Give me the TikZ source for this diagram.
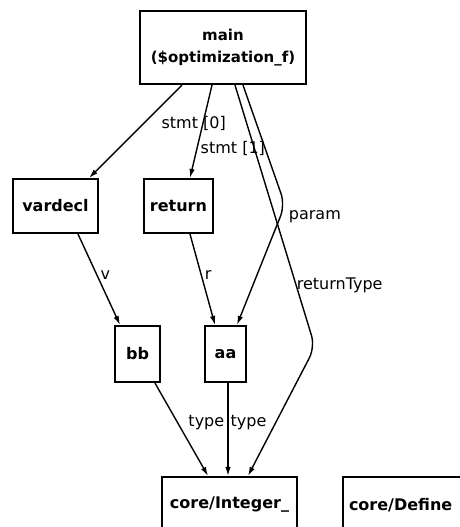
\documentclass[tikz,border=0pt]{standalone}
\usepackage{fontspec}
\setmainfont{DejaVu Sans}
\usetikzlibrary{arrows.meta}

\begin{document}
\begin{tikzpicture}[x=1pt,y=-1pt,
    box/.style={draw,line width=2.2pt,inner sep=0pt,font=\bfseries\fontsize{16}{22}\selectfont},
    edge/.style={line width=1.4pt,-{Latex[length=9pt,width=5.5pt]}},
    lbl/.style={font=\fontsize{16}{18}\selectfont,inner sep=0pt}]
  \useasboundingbox (0,0) rectangle (459,527);
  % boxes
  \node [box,minimum width=166pt,minimum height=73pt,align=center,font=\bfseries\fontsize{15}{22}\selectfont] (main) at (223,47.5) {main\\(\$optimization\_f)};
  \node [box,minimum width=85pt,minimum height=54pt] (vardecl) at (55.5,206) {vardecl};
  \node [box,minimum width=69pt,minimum height=54pt] (return) at (178.5,206) {return};
  \node [box,minimum width=45pt,minimum height=56pt] (bb) at (137.5,354) {bb};
  \node [box,minimum width=41pt,minimum height=56pt] (aa) at (225.5,354) {aa};
  \node [box,minimum width=135pt,minimum height=56pt] (integer) at (229.5,505) {core/Integer\_};
  \node [box,minimum height=56pt,text width=128pt,inner xsep=6pt,align=left] (define) at (413,505) {core/Define};
  \coordinate (parambend) at (285,205);
  \coordinate (typebend) at (315,347);
  % edges
  \draw [edge] ([xshift=-41pt]main.south) -- ([xshift=-10pt]vardecl.north east)
    node [lbl,pos=0.41,anchor=west,xshift=17pt] {stmt [0]};
  \draw [edge] ([xshift=-11pt]main.south) -- ([xshift=11.5pt]return.north)
    node [lbl,pos=0.68,anchor=west,xshift=3pt] {stmt [1]};
  \draw [edge,rounded corners=12pt] ([xshift=20pt]main.south) -- (parambend)
    -- ([xshift=11.5pt]aa.north) node [lbl,pos=0.1,anchor=west,xshift=8pt] {param};
  \draw [edge,rounded corners=12pt] ([xshift=12pt]main.south)
    -- (typebend) node [lbl,pos=0.764,anchor=west] {returnType}
    -- ([xshift=18.5pt]integer.north);
  \draw [edge] ([xshift=22.5pt]vardecl.south) -- ([xshift=-17.5pt]bb.north)
    node [lbl,pos=0.45,anchor=west,xshift=3pt] {v};
  \draw [edge] ([xshift=11.5pt]return.south) -- ([xshift=-10.5pt]aa.north)
    node [lbl,pos=0.45,anchor=west,xshift=3pt] {r};
  \draw [edge] ([xshift=17.5pt]bb.south) -- ([xshift=-21.5pt]integer.north)
    node [lbl,pos=0.43,anchor=west,xshift=10pt] {type};
  \draw [edge] ([xshift=2.5pt]aa.south) -- ([xshift=-1.5pt]integer.north)
    node [lbl,pos=0.43,anchor=west,xshift=2pt] {type};
\end{tikzpicture}
\end{document}
